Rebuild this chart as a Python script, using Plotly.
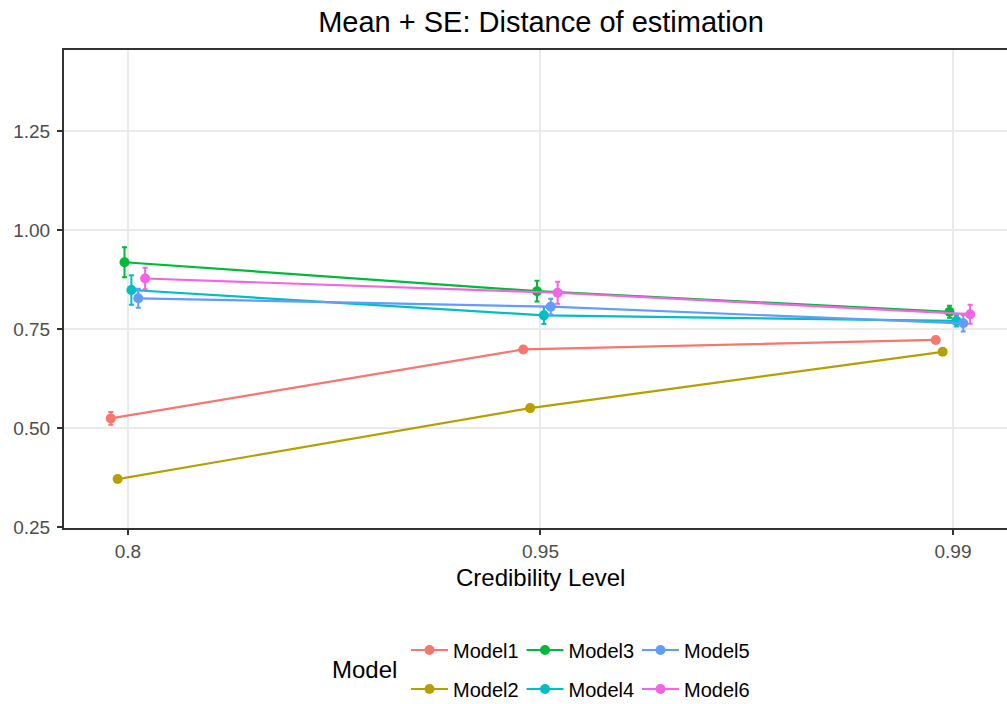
import plotly.graph_objects as go

# Credibility levels on the x axis (discrete)
levels = ["0.8", "0.95", "0.99"]

models = ["Model1", "Model2", "Model3", "Model4", "Model5", "Model6"]
colors = ["#F8766D", "#B79F00", "#00BA38", "#00BFC4", "#619CFF", "#F564E3"]

# Mean distance of estimation per model and level
mean_m1 = [0.525, 0.699, 0.723]
mean_m2 = [0.372, 0.551, 0.693]
mean_m3 = [0.919, 0.846, 0.794]
mean_m4 = [0.849, 0.785, 0.771]
mean_m5 = [0.828, 0.807, 0.765]
mean_m6 = [0.878, 0.842, 0.788]

# Standard errors
se_m1 = [0.016, 0.004, 0.004]
se_m2 = [0.005, 0.004, 0.005]
se_m3 = [0.038, 0.026, 0.015]
se_m4 = [0.037, 0.022, 0.014]
se_m5 = [0.024, 0.020, 0.021]
se_m6 = [0.027, 0.028, 0.024]

means = [mean_m1, mean_m2, mean_m3, mean_m4, mean_m5, mean_m6]
ses = [se_m1, se_m2, se_m3, se_m4, se_m5, se_m6]

y_ticks = [0.25, 0.50, 0.75, 1.00, 1.25]

# position_dodge(width = 0.1) equivalent
dodge_width = 0.1
n = len(models)

fig = go.Figure()
for i, (name, col, m, s) in enumerate(zip(models, colors, means, ses)):
    off = (i - (n - 1) / 2) * dodge_width / n
    xs = [k + 1 + off for k in range(len(levels))]
    fig.add_trace(go.Scatter(
        x=xs, y=m, name=name, mode="lines+markers",
        line=dict(color=col, width=2.2),
        marker=dict(color=col, size=10),
        error_y=dict(type="data", array=s, visible=True, color=col,
                     thickness=2, width=2.5),
        legend="legend" if i % 2 == 0 else "legend2",
    ))

TXT = "#4D4D4D"
AX = "#333333"
FONT = "Liberation Sans, Arial, sans-serif"

legend_common = dict(orientation="h", xref="container", yref="container",
                     x=406 / 1007, xanchor="left", yanchor="middle",
                     itemwidth=37, entrywidth=63.5, entrywidthmode="pixels",
                     font=dict(size=20, color="black"),
                     bgcolor="rgba(0,0,0,0)")

fig.update_layout(
    width=1007, height=704,
    margin=dict(l=64, r=0, t=50, b=176),
    paper_bgcolor="white", plot_bgcolor="white",
    font=dict(family=FONT, color="black"),
    title=dict(text="Mean + SE: Distance of estimation", x=541 / 1007,
               xanchor="center", xref="container", y=1 - 22 / 704,
               yanchor="middle", yref="container",
               font=dict(size=29, color="black")),
    xaxis=dict(range=[0.845, 3.131], tickvals=[1, 2, 3], ticktext=levels,
               showgrid=True, gridcolor="#EBEBEB", gridwidth=1.6,
               zeroline=False, showline=True, mirror=True, linecolor=AX,
               linewidth=2, ticks="outside", ticklen=5, tickwidth=2,
               tickcolor=AX, tickfont=dict(size=19, color=TXT)),
    yaxis=dict(range=[0.2485, 1.4545], tickvals=y_ticks,
               ticktext=[f"{v:.2f}" for v in y_ticks],
               showgrid=True, gridcolor="#EBEBEB", gridwidth=1.6,
               zeroline=False, showline=True, mirror=False, linecolor=AX,
               linewidth=2, ticks="outside", ticklen=5, tickwidth=2,
               tickcolor=AX, ticklabelstandoff=3,
               tickfont=dict(size=19, color=TXT)),
    legend=dict(legend_common, y=1 - 650 / 704),
    legend2=dict(legend_common, y=1 - 689 / 704),
    annotations=[
        dict(text="Credibility Level", xref="paper", yref="paper",
             x=(540.5 - 64) / 943, y=(528.3 - 578) / 478.8,
             xanchor="center", yanchor="middle", showarrow=False,
             font=dict(size=24, color="black")),
        dict(text="Model", xref="paper", yref="paper",
             x=(364.5 - 64) / 943, y=(528.3 - 670) / 478.8,
             xanchor="center", yanchor="middle", showarrow=False,
             font=dict(size=24, color="black")),
    ],
)

fig.write_html("out.html")
